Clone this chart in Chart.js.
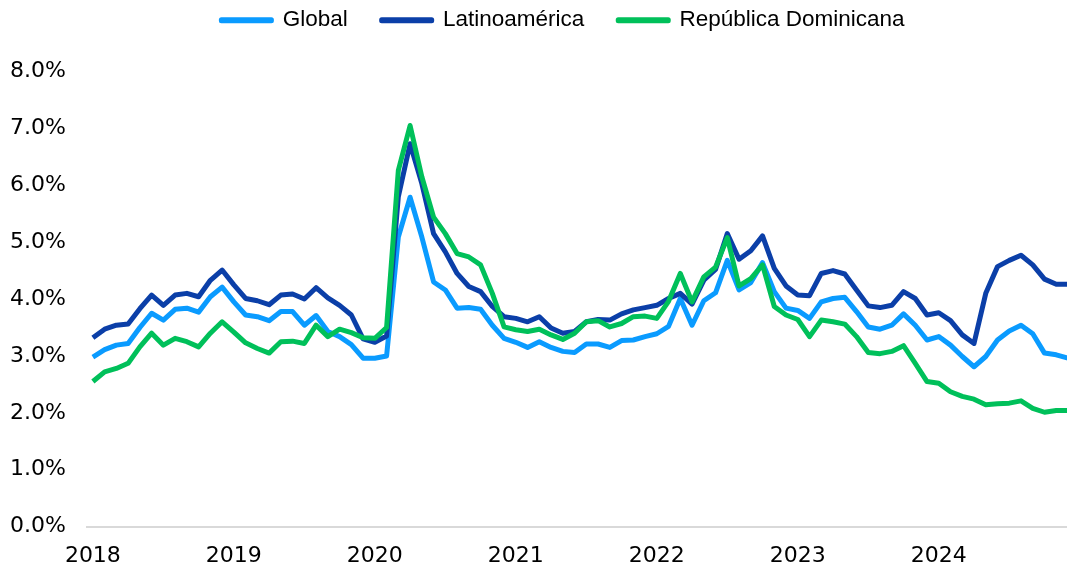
<!DOCTYPE html>
<html lang="es">

<head>
  <meta charset="UTF-8">
  <title>Tasa de interés</title>
  <script src="https://cdn.jsdelivr.net/npm/chart.js"></script>
  <style>
    body {
      margin: 0;
      background: #fff;
      overflow: hidden;
    }

    /* el lienzo sobresale un poco arriba, abajo y a la derecha, como el gráfico original recortado */
    .grafico {
      position: absolute;
      left: 0;
      top: -25px;
      width: 1084px;
      height: 610px;
    }
  </style>
</head>

<body>
  <div class="grafico">
    <canvas id="graficoTasas"></canvas>
  </div>

  <script>
    // Datos mensuales, ene 2018 - dic 2024 (una fila por año)
    const anos = [2018, 2019, 2020, 2021, 2022, 2023, 2024];

    const global = [
      2.98, 3.11, 3.19, 3.22, 3.50, 3.75, 3.63, 3.82, 3.84, 3.77, 4.04, 4.21,
      3.95, 3.72, 3.69, 3.62, 3.78, 3.78, 3.54, 3.71, 3.43, 3.34, 3.20, 2.96,
      2.96, 3.00, 5.09, 5.79, 5.09, 4.30, 4.16, 3.84, 3.85, 3.82, 3.54, 3.31,
      3.24, 3.15, 3.25, 3.15, 3.08, 3.06, 3.21, 3.21, 3.15, 3.27, 3.28, 3.34,
      3.39, 3.52, 4.01, 3.54, 3.97, 4.11, 4.68, 4.16, 4.29, 4.64, 4.13, 3.84,
      3.80, 3.66, 3.95, 4.01, 4.03, 3.78, 3.51, 3.47, 3.54, 3.74, 3.54, 3.28,
      3.34, 3.19, 2.99, 2.81, 2.99, 3.28, 3.44, 3.54, 3.39, 3.05, 3.02, 2.96
    ];

    const latinoamerica = [
      3.32, 3.47, 3.54, 3.56, 3.83, 4.07, 3.89, 4.07, 4.10, 4.04, 4.33, 4.51,
      4.25, 4.01, 3.97, 3.90, 4.07, 4.09, 4.00, 4.20, 4.02, 3.89, 3.72, 3.30,
      3.24, 3.35, 5.80, 6.73, 6.03, 5.15, 4.83, 4.45, 4.22, 4.13, 3.87, 3.69,
      3.66, 3.60, 3.69, 3.49, 3.40, 3.43, 3.60, 3.64, 3.63, 3.74, 3.81, 3.85,
      3.89, 4.01, 4.10, 3.91, 4.33, 4.52, 5.15, 4.70, 4.85, 5.11, 4.54, 4.23,
      4.07, 4.06, 4.45, 4.50, 4.44, 4.16, 3.88, 3.85, 3.89, 4.13, 4.01, 3.72,
      3.76, 3.62, 3.37, 3.22, 4.10, 4.57, 4.68, 4.77, 4.60, 4.35, 4.26, 4.26
    ];

    const republicaDominicana = [
      2.55, 2.72, 2.78, 2.87, 3.16, 3.40, 3.19, 3.31, 3.25, 3.16, 3.40, 3.60,
      3.42, 3.23, 3.13, 3.05, 3.25, 3.26, 3.22, 3.54, 3.34, 3.47, 3.41, 3.32,
      3.31, 3.50, 6.26, 7.05, 6.15, 5.44, 5.15, 4.80, 4.74, 4.60, 4.10, 3.51,
      3.46, 3.43, 3.47, 3.37, 3.29, 3.40, 3.60, 3.62, 3.51, 3.57, 3.69, 3.70,
      3.66, 3.96, 4.45, 3.95, 4.39, 4.56, 5.08, 4.23, 4.36, 4.60, 3.87, 3.72,
      3.64, 3.34, 3.63, 3.60, 3.56, 3.34, 3.06, 3.04, 3.08, 3.18, 2.87, 2.55,
      2.52, 2.37, 2.29, 2.24, 2.14, 2.16, 2.17, 2.21, 2.08, 2.01, 2.04, 2.04
    ];

    // Rótulos del eje X: un rótulo por mes, sólo se muestra el año en enero
    var meses = [];
    for (var a = 0; a < anos.length; a++) {
      for (var m = 1; m <= 12; m++) {
        meses.push(anos[a] + '-' + m);
      }
    }

    const fuenteEjes = { family: 'DejaVu Sans', size: 22 };

    // Separa la leyenda del área del gráfico y la corre un poco a la derecha
    const espacioLeyenda = {
      id: 'espacioLeyenda',
      beforeInit(chart) {
        const fitOriginal = chart.legend.fit;
        chart.legend.fit = function () {
          fitOriginal.call(this);
          this.height += 30;
        };
      },
      afterLayout(chart) {
        chart.legend.left += 16;
        chart.legend.right += 16;
      }
    };

    var ctx = document.getElementById('graficoTasas').getContext('2d');
    var myChart = new Chart(ctx, {
      type: 'line',
      data: {
        labels: meses,
        datasets: [{
          label: 'Global',
          data: global,
          borderColor: '#0A9BFF',
          backgroundColor: '#0A9BFF',
          order: 3
        }, {
          label: 'Latinoamérica',
          data: latinoamerica,
          borderColor: '#0B3FA8',
          backgroundColor: '#0B3FA8',
          order: 2
        }, {
          label: 'República Dominicana',
          data: republicaDominicana,
          borderColor: '#00C05A',
          backgroundColor: '#00C05A',
          order: 1
        }]
      },
      options: {
        responsive: true,
        maintainAspectRatio: false,
        animation: false,
        layout: { padding: { left: 10, right: 0, top: 0, bottom: 0 } },
        elements: {
          line: { borderWidth: 5, tension: 0, borderJoinStyle: 'round', fill: false },
          point: { radius: 0, hoverRadius: 0 }
        },
        plugins: {
          legend: {
            position: 'top',
            labels: {
              color: '#000',
              font: { family: 'Liberation Sans', size: 22.5 },
              boxWidth: 50,
              boxHeight: 1,
              padding: 34,
              sort: function (a, b) { return a.datasetIndex - b.datasetIndex; }
            }
          },
          tooltip: { enabled: false }
        },
        scales: {
          x: {
            offset: true,
            grid: { display: false, drawTicks: false },
            border: { display: true, color: '#D9D9D9', width: 2 },
            ticks: {
              color: '#000',
              font: fuenteEjes,
              padding: 16,
              autoSkip: false,
              maxRotation: 0,
              callback: function (valor, indice) {
                return indice % 12 === 0 ? meses[indice].split('-')[0] : '';
              }
            }
          },
          y: {
            min: 0,
            max: 8,
            grid: { display: false, drawTicks: false },
            border: { display: false },
            afterFit: function (escala) { escala.width = 77; },
            ticks: {
              stepSize: 1,
              color: '#000',
              font: fuenteEjes,
              padding: 21,
              callback: function (valor) { return valor.toFixed(1) + '%'; }
            }
          }
        }
      },
      plugins: [espacioLeyenda]
    });
  </script>
</body>

</html>
